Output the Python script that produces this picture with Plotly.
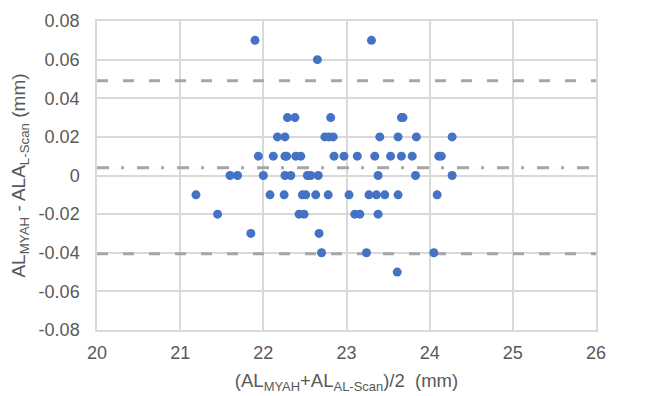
import plotly.graph_objects as go

# Data
mean_x = [21.90, 23.30,
          22.65,
          22.29, 22.38, 22.81, 23.66, 23.68,
          22.17, 22.26, 22.74, 22.79, 22.84, 23.40, 23.62, 23.84, 24.27,
          21.94, 22.12, 22.26, 22.28, 22.39, 22.45, 22.85, 22.97, 23.13, 23.34, 23.53, 23.66, 23.79, 24.11, 24.14,
          21.60, 21.69, 22.00, 22.26, 22.33, 22.53, 22.57, 22.66, 23.38, 23.83, 24.27,
          21.19, 22.08, 22.25, 22.47, 22.51, 22.63, 22.78, 23.03, 23.27, 23.36, 23.46, 23.62, 24.09,
          21.45, 22.43, 22.49, 23.10, 23.16, 23.38,
          21.85, 22.67,
          22.70, 23.24, 24.05,
          23.61]
diff_y = [0.07, 0.07,
          0.06,
          0.03, 0.03, 0.03, 0.03, 0.03,
          0.02, 0.02, 0.02, 0.02, 0.02, 0.02, 0.02, 0.02, 0.02,
          0.01, 0.01, 0.01, 0.01, 0.01, 0.01, 0.01, 0.01, 0.01, 0.01, 0.01, 0.01, 0.01, 0.01, 0.01,
          0.0, 0.0, 0.0, 0.0, 0.0, 0.0, 0.0, 0.0, 0.0, 0.0, 0.0,
          -0.01, -0.01, -0.01, -0.01, -0.01, -0.01, -0.01, -0.01, -0.01, -0.01, -0.01, -0.01, -0.01,
          -0.02, -0.02, -0.02, -0.02, -0.02, -0.02,
          -0.03, -0.03,
          -0.04, -0.04, -0.04,
          -0.05]

mean_diff = 0.004
upper_loa = 0.049
lower_loa = -0.0405

x_ticks = [20, 21, 22, 23, 24, 25, 26]
y_ticks = [-0.08, -0.06, -0.04, -0.02, 0, 0.02, 0.04, 0.06, 0.08]
y_tick_labels = ["-0.08", "-0.06", "-0.04", "-0.02", "0", "0.02", "0.04", "0.06", "0.08"]

x_range = [20, 26]
y_range = [-0.08, 0.08]

fig = go.Figure()

line_color = "#a6a6a6"
for yv, dash in [(upper_loa, "11px,15px"), (lower_loa, "11px,15px"), (mean_diff, "12px,12px,3px,13px")]:
    fig.add_trace(go.Scatter(
        x=x_range, y=[yv, yv], mode="lines",
        line=dict(color=line_color, width=3, dash=dash),
        hoverinfo="skip", showlegend=False))

fig.add_trace(go.Scatter(
    x=mean_x, y=diff_y, mode="markers",
    marker=dict(color="#4472C4", size=9),
    showlegend=False))

font_fam = "Liberation Sans, Arial, sans-serif"
fig.update_layout(
    width=643, height=388,
    margin=dict(l=89, r=55, t=13, b=66),
    paper_bgcolor="white", plot_bgcolor="white",
    font=dict(family=font_fam, color="#595959", size=18),
    xaxis=dict(range=x_range, tickvals=x_ticks, showgrid=True, gridcolor="#d9d9d9",
               gridwidth=1.5, zeroline=False, showline=True, linecolor="#d9d9d9", linewidth=1.5,
               mirror=True, ticks="", tickfont=dict(size=18), automargin=False,
               ticklabelstandoff=6,
               title=dict(text="(AL<sub>MYAH</sub>+AL<sub>AL-Scan</sub>)/2  (mm)",
                          font=dict(size=18.5), standoff=12)),
    yaxis=dict(range=y_range, tickvals=y_ticks, ticktext=y_tick_labels, showgrid=True,
               gridcolor="#d9d9d9", gridwidth=1.5, zeroline=False, showline=True,
               linecolor="#d9d9d9", linewidth=1.5, mirror=True, ticks="",
               tickfont=dict(size=18), automargin=False, ticklabelstandoff=12,
               title=dict(text="AL<sub>MYAH</sub> - ALA<sub>L-Scan</sub> (mm)",
                          font=dict(size=19), standoff=15)),
)

fig.write_html("out.html")
